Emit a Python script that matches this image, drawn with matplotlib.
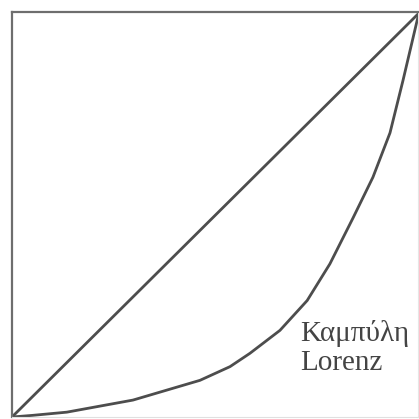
import matplotlib.pyplot as plt

# share of population vs share of income
pop_share = [0.0, 0.05, 0.135, 0.298, 0.463, 0.537, 0.586, 0.660, 0.727, 0.783, 0.840, 0.889, 0.931, 0.963, 1.0]
income_share = [0.0, 0.004, 0.012, 0.042, 0.091, 0.125, 0.158, 0.215, 0.289, 0.38, 0.494, 0.595, 0.705, 0.835, 0.993]
equality = [0.0, 1.0]
label_lines = ["Καμπύλη", "Lorenz"]

plt.rcParams['font.family'] = ['Liberation Serif', 'DejaVu Serif']

fig = plt.figure(figsize=(4.19, 4.19), dpi=100)
ax = fig.add_axes([12 / 419, 2 / 419, 406 / 419, 405 / 419])

ax.plot(equality, equality, color='#4d4d4d', linewidth=2.0, solid_capstyle='round')
ax.plot(pop_share, income_share, color='#4d4d4d', linewidth=2.0,
        solid_capstyle='round', solid_joinstyle='round')

ax.set_xlim(0, 1)
ax.set_ylim(0, 1.005)
ax.set_xticks([])
ax.set_yticks([])

for side in ['left', 'top']:
    ax.spines[side].set_color('#6e6e6e')
    ax.spines[side].set_linewidth(1.6)
ax.spines['right'].set_color('#e6e6e6')
ax.spines['right'].set_linewidth(0.8)
ax.spines['bottom'].set_color('#e0e0e0')
ax.spines['bottom'].set_linewidth(0.8)

ax.text(0.709, 0.24, "\n".join(label_lines), fontsize=21, color='#444444',
        ha='left', va='top', linespacing=1.15)

fig.savefig('out.png', dpi=100)
